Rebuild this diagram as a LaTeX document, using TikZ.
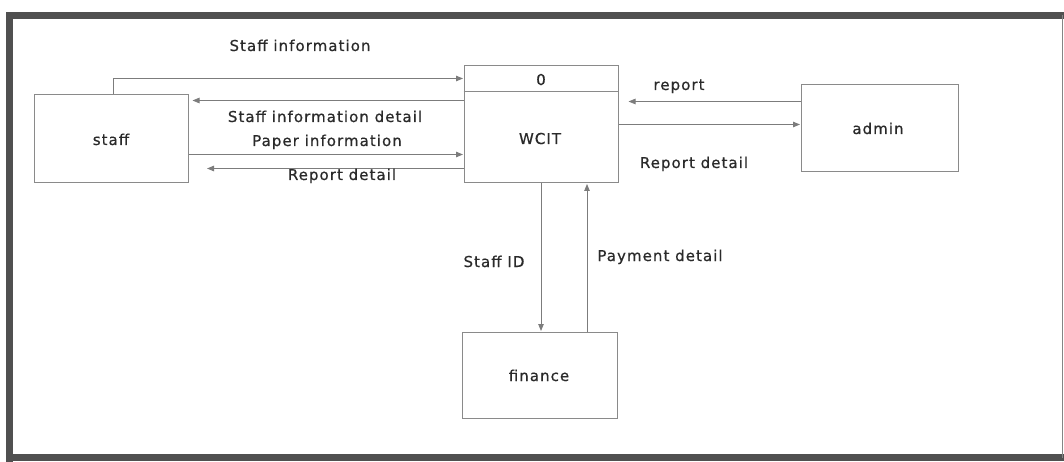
\documentclass[tikz,border=0pt]{standalone}
\usepackage{fontspec}
\setmainfont{DejaVu Sans}[LetterSpace=7,FakeBold=0.6]
\usetikzlibrary{arrows.meta}
\definecolor{framec}{HTML}{505050}
\definecolor{linec}{HTML}{7C7C7C}
\definecolor{boxc}{HTML}{8A8A8A}
\definecolor{textc}{HTML}{2A2A2A}
\tikzset{
  ent/.style={draw=boxc, line width=1pt, rectangle, inner sep=0pt, fill=white},
  flow/.style={draw=linec, line width=0.9pt, -{Triangle[length=7pt,width=5.5pt]}, shorten >=0.5pt},
  lbl/.style={anchor=base, inner sep=0pt, text=textc, font=\fontsize{15}{18}\selectfont}
}
\begin{document}
\begin{tikzpicture}[x=1pt,y=-1pt]
\useasboundingbox (0,0) rectangle (1064,462);
\fill[white] (0,0) rectangle (1064,462);
% frame
\draw[framec, line width=7pt] (9.5,462) -- (9.5,15.5) -- (1064,15.5);
\draw[framec, line width=7pt] (6,457.5) -- (1064,457.5);
\draw[framec!70, line width=1pt] (1062,15) -- (1062,458);
% entities
\node[ent, minimum width=154pt, minimum height=88pt] (staff) at (111,139) {};
\node[ent, minimum width=154pt, minimum height=117pt] (wcit) at (541,124.5) {};
\draw[boxc, line width=1pt] ([yshift=-26pt]wcit.north west) -- ([yshift=-26pt]wcit.north east);
\node[ent, minimum width=157pt, minimum height=87pt] (admin) at (879.5,128.5) {};
\node[ent, minimum width=155pt, minimum height=86pt] (finance) at (539.5,375) {};
% entity texts
\node[lbl] (tstaff) at (111,145) {staff};
\node[lbl] (tzero) at (541,85) {0};
\node[lbl] (twcit) at (540,144) {WCIT};
\node[lbl] (tadmin) at (878,134) {admin};
\node[lbl] (tfin) at (539,381) {finance};
% flows staff <-> WCIT
\draw[flow] ([xshift=80pt]staff.north west) |- ([yshift=-13pt]wcit.north west);
\draw[flow, shorten >=4pt] ([yshift=-35pt]wcit.north west) -- ([yshift=-35pt]wcit.north west -| staff.east);
\draw[flow] ([yshift=-89pt]wcit.north west -| staff.east) -- ([yshift=-89pt]wcit.north west);
\coordinate (rdend) at ([yshift=-103pt,xshift=-257pt]wcit.north west);
\draw[flow] ([yshift=-103pt]wcit.north west) -- (rdend);
% flows admin <-> WCIT
\draw[flow, shorten >=10pt] ([yshift=-17pt]admin.north west) -- ([yshift=-17pt]admin.north west -| wcit.east);
\draw[flow] ([yshift=-59pt]wcit.north east) -- ([yshift=-59pt]wcit.north east -| admin.west);
% flows finance <-> WCIT
\draw[flow] (wcit.south) -- (wcit.south |- finance.north);
\draw[flow] ([xshift=46pt]wcit.south |- finance.north) -- ([xshift=46pt]wcit.south);
% labels
\node[lbl] (l1) at (300,51) {Staff information};
\node[lbl] (l2) at (325,122) {Staff information detail};
\node[lbl] (l3) at (327,146) {Paper information};
\node[lbl] (l4) at (342,180) {Report detail};
\node[lbl] (l5) at (679,90) {report};
\node[lbl] (l6) at (694,168) {Report detail};
\node[lbl] (l7) at (494,267) {Staff ID};
\node[lbl] (l8) at (660,261) {Payment detail};
\end{tikzpicture}
\end{document}
